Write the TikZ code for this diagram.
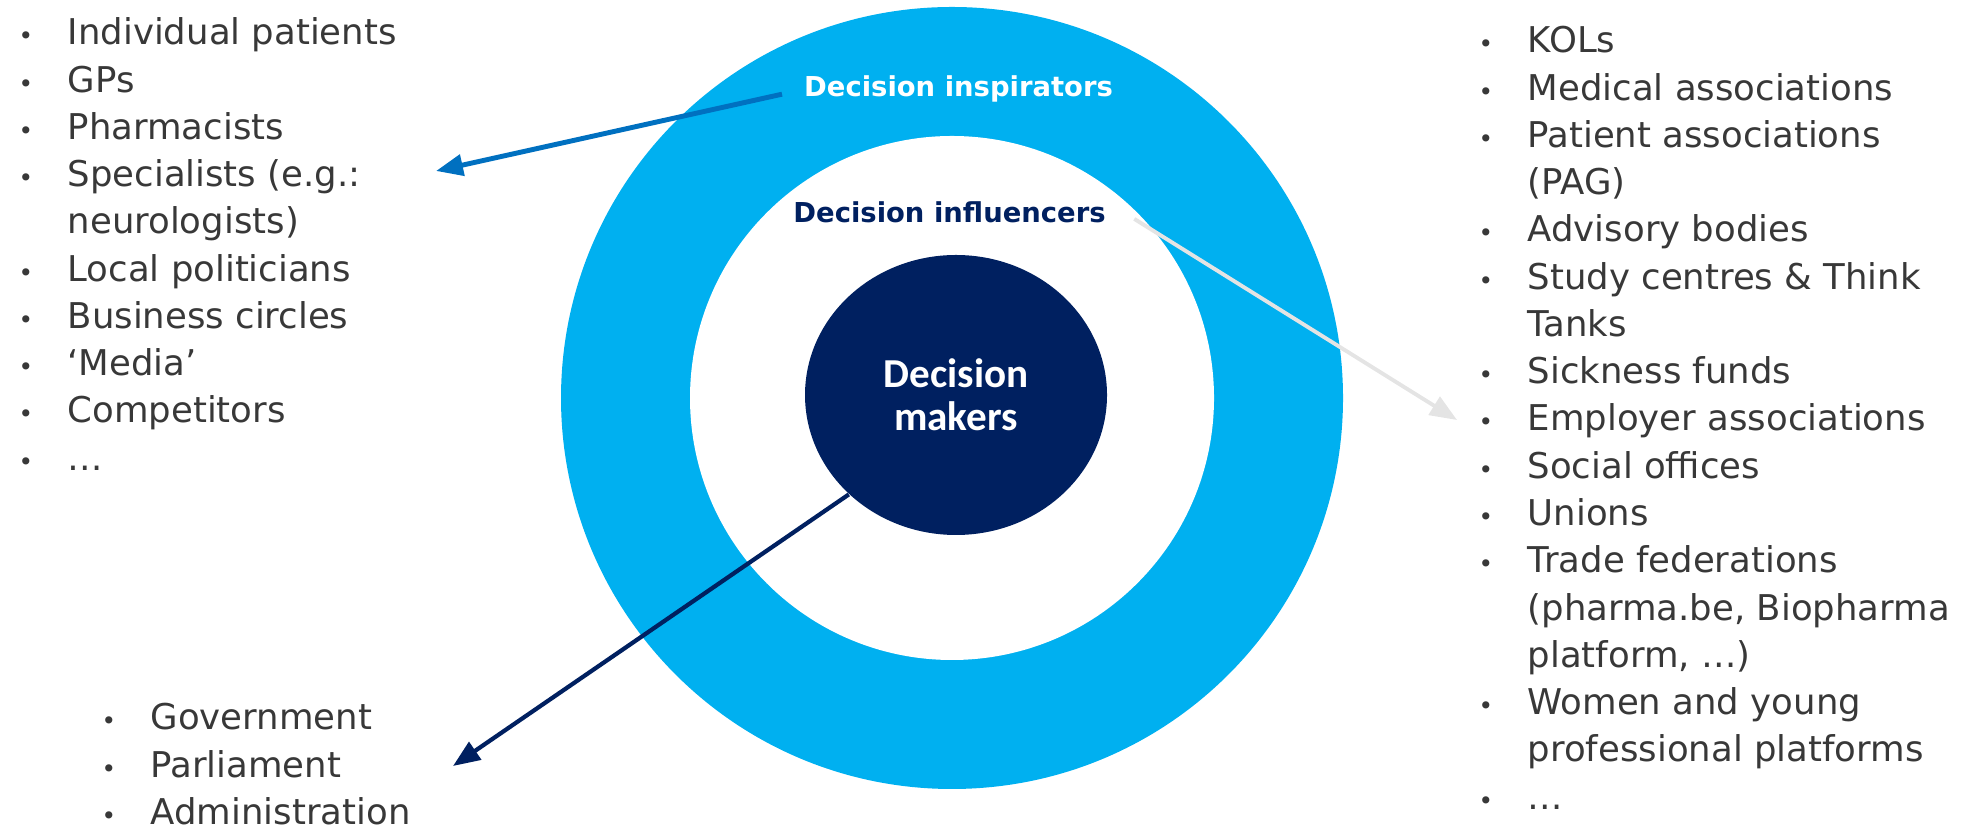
\documentclass[tikz,border=0pt]{standalone}
\usepackage{fontspec}
\setmainfont{DejaVu Sans}
\newfontfamily\corefont{Carlito}
\usepackage{tikz}
\usetikzlibrary{arrows.meta,shapes.geometric}

\definecolor{ringblue}{HTML}{00B0F0}
\definecolor{corenavy}{HTML}{002060}
\definecolor{arrblue}{HTML}{0070C0}
\definecolor{arrgray}{HTML}{E4E4E4}
\definecolor{listgray}{HTML}{383838}

\newcommand{\bul}{\makebox[0.49cm][l]{\scriptsize\textbullet}\strut}
\newcommand{\cont}{\hspace*{0.49cm}\strut}

\begin{document}
\begin{tikzpicture}[>={Triangle[length=0.27cm,width=0.21cm]},
		ring/.style={circle, inner sep=0pt},
		ringlabel/.style={font=\bfseries\fontsize{7.8pt}{9pt}\selectfont, inner sep=0pt, anchor=base},
		itemlist/.style={align=left, anchor=north west, inner sep=0pt, text=listgray,
			font=\fontsize{10.1pt}{13.45pt}\selectfont}]

		\useasboundingbox (0,0) rectangle (19.64,8.29);

		\node[ring, fill=ringblue, minimum size=7.82cm] (outer) at (9.52,4.31) {};
		\node[ring, fill=white, minimum size=5.24cm] (inner) at (outer) {};
		\node[ellipse, inner sep=0pt, fill=corenavy, minimum width=3.02cm, minimum height=2.80cm,
			text=white, align=center,
			font=\corefont\bfseries\fontsize{11.7pt}{12.2pt}\selectfont] (core) at (9.56,4.34) {Decision\\makers};

		\node[ringlabel, text=white] (insp) at (9.585,7.32) {Decision inspirators};
		\node[ringlabel, text=corenavy] (infl) at (9.495,6.06) {Decision influencers};

		\node[itemlist] (inspirators) at (0.18,8.18) {\bul Individual patients\\
			\bul GPs\\
			\bul Pharmacists\\
			\bul Specialists (e.g.:\\
			\cont neurologists)\\
			\bul Local politicians\\
			\bul Business circles\\
			\bul ‘Media’\\
			\bul Competitors\\
			\bul …};
		\node[itemlist] (influencers) at (14.78,8.10) {\bul KOLs\\
			\bul Medical associations\\
			\bul Patient associations\\
			\cont (PAG)\\
			\bul Advisory bodies\\
			\bul Study centres \& Think\\
			\cont Tanks\\
			\bul Sickness funds\\
			\bul Employer associations\\
			\bul Social offices\\
			\bul Unions\\
			\bul Trade federations\\
			\cont (pharma.be, Biopharma\\
			\cont platform, …)\\
			\bul Women and young\\
			\cont professional platforms\\
			\bul …};
		\node[itemlist] (makers) at (1.01,1.33) {\bul Government\\
			\bul Parliament\\
			\bul Administration};

		\coordinate (specend) at (4.36,6.58);
		\coordinate (emplend) at (14.57,4.09);
		\coordinate (govend) at (4.53,0.63);

		\path[->]
		(insp.west) edge[arrblue, line width=1.4pt, shorten <=0.22cm] (specend)
		(infl.north east) edge[arrgray, line width=1.1pt, shorten <=0.33cm] (emplend)
		(core.south west) edge[corenavy, line width=1.2pt] (govend);
\end{tikzpicture}
\end{document}
